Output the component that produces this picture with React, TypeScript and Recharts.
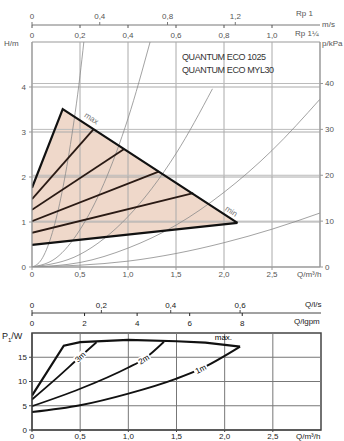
import React from "react";
import {
  ComposedChart,
  Line,
  Area,
  XAxis,
  YAxis,
  ReferenceLine,
  ReferenceArea,
} from "recharts";

// ---- head chart (top) ----
const qTicks = [0, 0.5, 1, 1.5, 2, 2.5];
const qGrid = [0.5, 1, 1.5, 2, 2.5];
const hTicks = [0, 1, 2, 3, 4];
const hGrid = [1, 2, 3, 4];
const kpaTicks = [0, 10, 20, 30, 40];
const kpaGrid = [10, 20, 30, 40];
const rp1Ticks = [0, 0.4, 0.8, 1.2];
const rp114Ticks = [0, 0.2, 0.4, 0.6, 0.8, 1.0];

const maxCurve = [
  { q: 0, h: 1.76 },
  { q: 0.32, h: 3.51 },
  { q: 2.14, h: 0.98 },
];
const minCurve = [
  { q: 0, h: 0.49 },
  { q: 2.14, h: 0.98 },
];
const midCurves = [
  [{ q: 0, h: 1.51 }, { q: 0.64, h: 3.06 }],
  [{ q: 0, h: 1.27 }, { q: 0.96, h: 2.62 }],
  [{ q: 0, h: 1.02 }, { q: 1.32, h: 2.12 }],
  [{ q: 0, h: 0.76 }, { q: 1.68, h: 1.64 }],
];
const fieldArea = [
  { q: 0, h: [0.49, 1.76] },
  { q: 0.32, h: [0.57, 3.51] },
  { q: 2.14, h: [0.98, 0.98] },
];
const systemCurves = [
  [{ q: 0, h: 0 }, { q: 0.1, h: 0.17 }, { q: 0.2, h: 0.68 }, { q: 0.3, h: 1.53 }, { q: 0.4, h: 2.72 }, { q: 0.5, h: 4.25 }, { q: 0.54, h: 5 }],
  [{ q: 0, h: 0 }, { q: 0.25, h: 0.2 }, { q: 0.5, h: 0.83 }, { q: 0.75, h: 1.86 }, { q: 1, h: 3.3 }, { q: 1.23, h: 5 }],
  [{ q: 0, h: 0 }, { q: 0.5, h: 0.28 }, { q: 1, h: 1.12 }, { q: 1.5, h: 2.52 }, { q: 1.88, h: 3.96 }],
  [{ q: 0, h: 0 }, { q: 0.5, h: 0.1 }, { q: 1, h: 0.42 }, { q: 1.5, h: 0.93 }, { q: 2, h: 1.66 }, { q: 2.5, h: 2.59 }, { q: 3, h: 3.73 }],
  [{ q: 0, h: 0 }, { q: 1, h: 0.13 }, { q: 1.5, h: 0.3 }, { q: 2, h: 0.54 }, { q: 2.5, h: 0.84 }, { q: 3, h: 1.2 }],
];

// ---- power chart (bottom) ----
const pTicks = [0, 5, 10, 15];
const pGrid = [5, 10, 15];
const lsTicks = [0, 0.2, 0.4, 0.6];
const gpmTicks = [0, 2, 4, 6, 8];

const powerMax = [
  { q: 0, p: 7.1 }, { q: 0.33, p: 17.4 }, { q: 0.5, p: 18.1 }, { q: 1, p: 18.6 },
  { q: 1.5, p: 18.3 }, { q: 1.8, p: 18.0 }, { q: 2.16, p: 17.2 },
];
const power3m = [{ q: 0, p: 6.3 }, { q: 0.25, p: 10.6 }, { q: 0.5, p: 15.1 }, { q: 0.67, p: 18.1 }];
const power2m = [{ q: 0, p: 4.9 }, { q: 0.5, p: 8.5 }, { q: 1, p: 12.9 }, { q: 1.16, p: 14.6 }, { q: 1.37, p: 18.2 }];
const power1m = [
  { q: 0, p: 3.7 }, { q: 0.5, p: 5.1 }, { q: 1, p: 7.5 }, { q: 1.5, p: 10.6 },
  { q: 1.75, p: 12.6 }, { q: 2.16, p: 17.2 },
];

const fmt = (v: number) => (v === 0 ? "0" : v.toFixed(1).replace(".", ","));

const GREY = "#555";
const font = "Liberation Sans, Arial, sans-serif";

function DownTick(props: any) {
  const { x, y, payload, band, color, size, format } = props;
  return (
    <g>
      <line x1={x} x2={x} y1={y - band} y2={y - band + 3} stroke={color} />
      <text x={x} y={y - size} textAnchor="middle" fontSize={8} fill={color} fontFamily={font}>
        {format(payload.value)}
      </text>
    </g>
  );
}

function curveLabel(index: number, text: string, angle: number, dx = 0, dy = 0, box = true, color = "#000") {
  return (props: any) => {
    if (props.index !== index) return null;
    const x = props.x + dx;
    const y = props.y + dy;
    return (
      <g transform={`translate(${x},${y}) rotate(${angle})`}>
        {box && <rect x={-7} y={-4} width={14} height={8} fill="#fff" />}
        <text x={0} y={3} textAnchor="middle" fontSize={8} fill={color} fontFamily={font}>
          {text}
        </text>
      </g>
    );
  };
}

// invisible series so that the secondary axes get drawn
function anchor(xAxisId: string, yAxisId: string, data: any[], key: string) {
  return (
    <Line xAxisId={xAxisId} yAxisId={yAxisId} data={data} dataKey={key} stroke="none" dot={false}
      activeDot={false} isAnimationActive={false} legendType="none" />
  );
}

const lbl = (left: number, top: number, color = GREY, size = 8): React.CSSProperties => ({
  position: "absolute",
  left,
  top,
  fontSize: size,
  color,
  fontFamily: font,
  whiteSpace: "nowrap",
  lineHeight: "10px",
});

// top axes are stacked by id: "a…" sits on the plot, "b…" above it
function HeadChart() {
  const tickStyle = { fill: GREY, fontSize: 8, fontFamily: font };
  return (
    <ComposedChart width={344} height={285} margin={{ top: 0, right: 0, bottom: 0, left: 0 }}>
      <XAxis xAxisId="q" dataKey="q" type="number" domain={[0, 3]} ticks={qTicks} interval={0}
        tickFormatter={fmt} height={18} tick={tickStyle} stroke="#999" tickSize={3} tickMargin={1} allowDataOverflow />
      <XAxis xAxisId="a_rp114" dataKey="q" orientation="top" type="number" domain={[0, 1.2]} ticks={rp114Ticks} interval={0}
        height={17} axisLine={false} tickLine={false} tickSize={0} tickMargin={0} allowDataOverflow
        tick={(p: any) => <DownTick {...p} band={17} size={4} color={GREY} format={fmt} />} />
      <XAxis xAxisId="b_rp1" dataKey="q" orientation="top" type="number" domain={[0, 1.7]} ticks={rp1Ticks} interval={0}
        height={25} tickFormatter={fmt} tick={tickStyle} stroke="#777" tickSize={3} tickMargin={3} allowDataOverflow />
      <YAxis yAxisId="h" type="number" domain={[0, 5]} ticks={hTicks} interval={0} width={32}
        tick={tickStyle} stroke="#999" tickSize={3} tickMargin={3} allowDataOverflow />
      <YAxis yAxisId="p" orientation="right" type="number" domain={[0, 49.05]} ticks={kpaTicks} interval={0} width={24}
        tick={tickStyle} stroke="#999" tickSize={3} tickMargin={2} allowDataOverflow />

      {anchor("a_rp114", "h", minCurve, "h")}
      {anchor("b_rp1", "h", minCurve, "h")}
      {anchor("q", "p", minCurve, "h")}

      <Area xAxisId="q" yAxisId="h" data={fieldArea} dataKey="h" type="linear" fill="#efd8ca" fillOpacity={1}
        stroke="none" isAnimationActive={false} />

      {qGrid.map((v) => (
        <ReferenceLine key={"qx" + v} xAxisId="q" yAxisId="h" x={v} stroke="#aaa" strokeWidth={1} />
      ))}
      {hGrid.map((v) => (
        <ReferenceLine key={"hy" + v} xAxisId="q" yAxisId="h" y={v} stroke="#aaa" strokeWidth={1} />
      ))}
      {kpaGrid.map((v) => (
        <ReferenceLine key={"py" + v} xAxisId="q" yAxisId="p" y={v} stroke="#bbb" strokeWidth={1} />
      ))}
      <ReferenceArea xAxisId="q" yAxisId="h" x1={0} x2={3} y1={0} y2={5} fill="none" stroke="#999" ifOverflow="visible" />

      {systemCurves.map((c, i) => (
        <Line key={"s" + i} xAxisId="q" yAxisId="h" data={c} dataKey="h" type="monotone" stroke="#8a8a8a"
          strokeWidth={0.8} dot={false} isAnimationActive={false} />
      ))}
      {midCurves.map((c, i) => (
        <Line key={"m" + i} xAxisId="q" yAxisId="h" data={c} dataKey="h" type="linear" stroke="#2a1a14"
          strokeWidth={1.8} dot={false} isAnimationActive={false} />
      ))}
      <Line xAxisId="q" yAxisId="h" data={minCurve} dataKey="h" type="linear" stroke="#111" strokeWidth={2.2}
        dot={false} isAnimationActive={false} label={curveLabel(1, "min", 33, -6, -12, false, "#777")} />
      <Line xAxisId="q" yAxisId="h" data={maxCurve} dataKey="h" type="linear" stroke="#111" strokeWidth={2.2}
        dot={false} isAnimationActive={false} label={curveLabel(1, "max", 33, 29, 9, false, "#777")} />
    </ComposedChart>
  );
}

function PowerChart() {
  const tickStyle = { fill: "#222", fontSize: 8, fontFamily: font };
  return (
    <ComposedChart width={344} height={156} margin={{ top: 0, right: 23, bottom: 0, left: 0 }}>
      <XAxis xAxisId="q" dataKey="q" type="number" domain={[0, 3]} ticks={qTicks} interval={0}
        tickFormatter={fmt} height={11} tick={tickStyle} stroke="#444" tickSize={2} tickMargin={1} allowDataOverflow />
      <XAxis xAxisId="a_gpm" dataKey="q" orientation="top" type="number" domain={[0, 10.997]} ticks={gpmTicks} interval={0}
        height={20} axisLine={false} tickLine={false} tickSize={0} tickMargin={0} allowDataOverflow
        tick={(p: any) => <DownTick {...p} band={20} size={7} color="#222" format={(v: number) => String(v)} />} />
      <XAxis xAxisId="b_ls" dataKey="q" orientation="top" type="number" domain={[0, 0.8333]} ticks={lsTicks} interval={0}
        height={28} tickFormatter={fmt} tick={tickStyle} stroke="#444" tickSize={3} tickMargin={2} allowDataOverflow />
      <YAxis yAxisId="p" type="number" domain={[0, 20]} ticks={pTicks} interval={0} width={32}
        tick={tickStyle} stroke="#444" tickSize={3} tickMargin={2} allowDataOverflow />

      {anchor("a_gpm", "p", power3m, "p")}
      {anchor("b_ls", "p", power3m, "p")}

      {qGrid.map((v) => (
        <ReferenceLine key={"qx" + v} xAxisId="q" yAxisId="p" x={v} stroke="#777" strokeWidth={1} />
      ))}
      {pGrid.map((v) => (
        <ReferenceLine key={"py" + v} xAxisId="q" yAxisId="p" y={v} stroke="#777" strokeWidth={1} />
      ))}
      <ReferenceArea xAxisId="q" yAxisId="p" x1={0} x2={3} y1={0} y2={20} fill="none" stroke="#444"
        strokeWidth={1.5} ifOverflow="visible" />

      <Line xAxisId="q" yAxisId="p" data={power1m} dataKey="p" type="monotone" stroke="#111" strokeWidth={2}
        dot={false} isAnimationActive={false} label={curveLabel(4, "1m", -27)} />
      <Line xAxisId="q" yAxisId="p" data={power2m} dataKey="p" type="monotone" stroke="#111" strokeWidth={1.8}
        dot={false} isAnimationActive={false} label={curveLabel(3, "2m", -31)} />
      <Line xAxisId="q" yAxisId="p" data={power3m} dataKey="p" type="monotone" stroke="#111" strokeWidth={1.8}
        dot={false} isAnimationActive={false} label={curveLabel(2, "3m", -42)} />
      <Line xAxisId="q" yAxisId="p" data={powerMax} dataKey="p" type="linear" stroke="#111" strokeWidth={2.2}
        dot={false} isAnimationActive={false} label={curveLabel(5, "max.", 0, 18, -6, false)} />
    </ComposedChart>
  );
}

export default function App() {
  return (
    <div style={{ position: "absolute", left: 0, top: 0, width: 344, height: 441, background: "#fff", overflow: "hidden" }}>
      <HeadChart />
      <div style={{ position: "absolute", left: 0, top: 285 }}>
        <PowerChart />
      </div>

      <div style={lbl(4, 39)}>H/m</div>
      <div style={lbl(322, 39)}>p/kPa</div>
      <div style={lbl(296, 9)}>Rp 1</div>
      <div style={lbl(322, 20)}>m/s</div>
      <div style={lbl(295, 29)}>Rp 1¼</div>
      <div style={lbl(297, 270)}>Q/m³/h</div>
      <div style={{ ...lbl(182, 52, "#333", 9), letterSpacing: -0.4 }}>QUANTUM ECO 1025</div>
      <div style={{ ...lbl(182, 65, "#333", 9), letterSpacing: -0.4 }}>QUANTUM ECO MYL30</div>

      <div style={lbl(305, 300, "#222")}>Q/l/s</div>
      <div style={lbl(294, 317, "#222")}>Q/lgpm</div>
      <div style={lbl(2, 331, "#222", 9)}>
        P<sub style={{ fontSize: 6 }}>1</sub>/W
      </div>
      <div style={lbl(296, 432, "#222")}>Q/m³/h</div>
    </div>
  );
}
